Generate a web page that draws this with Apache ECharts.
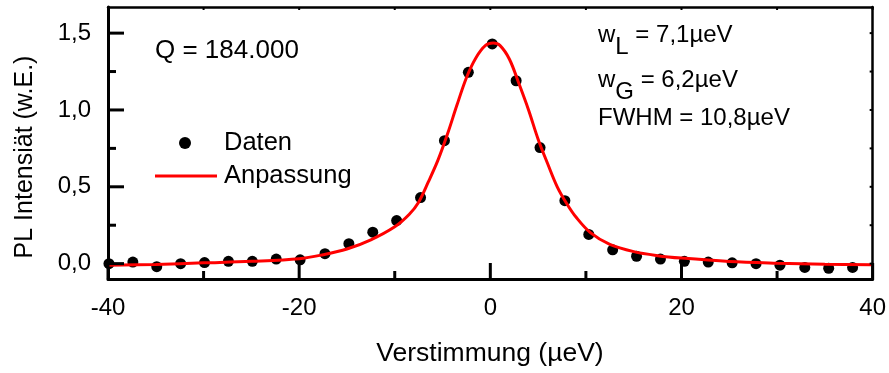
<!DOCTYPE html>
<html>
<head>
<meta charset="utf-8">
<script src="https://cdn.jsdelivr.net/npm/echarts@6/dist/echarts.min.js"></script>
<style>
  html, body { margin: 0; padding: 0; background: #fff; }
  #chart { width: 889px; height: 373px; }
</style>
</head>
<body>
<div id="chart"></div>
<script>
// Measured PL spectrum (detuning in µeV, intensity in arbitrary units)
const dataX = [-39.9, -37.4, -34.9, -32.4, -29.9, -27.4, -24.9, -22.4, -19.9, -17.3,
               -14.8, -12.3, -9.8, -7.3, -4.8, -2.3, 0.2, 2.7, 5.2, 7.8,
               10.3, 12.8, 15.3, 17.8, 20.3, 22.8, 25.3, 27.8, 30.3, 32.9, 35.4, 37.9];
const dataY = [0.0, 0.01, -0.02, 0.0, 0.007, 0.015, 0.015, 0.03, 0.025, 0.065,
               0.13, 0.205, 0.28, 0.43, 0.80, 1.245, 1.43, 1.19, 0.755, 0.41,
               0.19, 0.09, 0.048, 0.03, 0.015, 0.01, 0.005, 0.0, -0.01, -0.025, -0.03, -0.025];

// Voigt fit curve
const fitX = [-40, -35, -30, -25, -20, -17.5, -15, -12.5, -10, -8.5, -7.5, -6.5, -5.5, -4.5,
              -3.5, -2.5, -1.5, -0.5, 0.3, 1, 2, 3, 4, 5, 6, 7, 8, 9, 10.5, 12.5, 15,
              17.5, 20, 25, 30, 35, 40];
const fitY = [-0.010, -0.005, 0.005, 0.015, 0.032, 0.058, 0.095, 0.155, 0.24, 0.32, 0.40, 0.53, 0.67, 0.84,
              1.03, 1.21, 1.34, 1.42, 1.435, 1.42, 1.33, 1.17, 1.00, 0.81, 0.65, 0.50, 0.39, 0.30, 0.20, 0.125, 0.078,
              0.052, 0.036, 0.014, 0.003, -0.004, -0.008];

// Tick positions
const xMajorTicks = [-40, -20, 0, 20, 40];
const xMinorTicks = [-30, -10, 10, 30];
const xAllTicks = [-40, -30, -20, -10, 0, 10, 20, 30, 40];
const yMajorTicks = [0, 0.5, 1.0, 1.5];
const yMinorTicks = [0.25, 0.75, 1.25];
const yAllTicks = [0, 0.25, 0.5, 0.75, 1.0, 1.25, 1.5];

const FONT = 'Liberation Sans, Arial, sans-serif';
const X_MIN = -40, X_MAX = 40, Y_MIN = -0.1, Y_MAX = 1.67;

const chart = echarts.init(document.getElementById('chart'), null, { renderer: 'canvas' });

const fmtComma = v => v.toFixed(1).replace('.', ',');

// Axis carrying only the frame line and (optionally) the tick labels
function frameAxis(kind, position, width, labels) {
  const ax = {
    type: 'value', position,
    min: kind === 'x' ? X_MIN : Y_MIN, max: kind === 'x' ? X_MAX : Y_MAX,
    axisLine: { show: true, onZero: false, lineStyle: { color: '#000', width } },
    axisTick: { show: false },
    splitLine: { show: false },
    axisLabel: { show: false }
  };
  if (labels) {
    ax.axisLabel = Object.assign({ show: true, margin: 17, color: '#000', fontFamily: FONT, fontSize: 24 }, labels);
  }
  return ax;
}

chart.setOption({
  animation: false,
  backgroundColor: '#fff',
  grid: { left: 108, right: 16, top: 7, bottom: 94, containLabel: false },
  xAxis: [
    // copies: the library may rewrite the arrays it is handed
    frameAxis('x', 'bottom', 3, { customValues: xMajorTicks.slice(), formatter: v => String(v) }),
    frameAxis('x', 'top', 2.5, null)
  ],
  yAxis: [
    frameAxis('y', 'left', 3, { customValues: yMajorTicks.slice(), formatter: fmtComma }),
    frameAxis('y', 'right', 2.5, null)
  ],
  legend: [
    {
      left: 179, top: 130, padding: 0, itemWidth: 12, itemHeight: 12, itemGap: 0,
      data: [{ name: 'Daten', icon: 'circle' }],
      textStyle: { color: '#000', fontFamily: FONT, fontSize: 25.5, padding: [0, 0, 0, 28] }
    },
    {
      left: 155, top: 163, padding: 0, itemWidth: 62, itemHeight: 3, itemGap: 0,
      data: [{ name: 'Anpassung', icon: 'rect' }],
      textStyle: { color: '#000', fontFamily: FONT, fontSize: 25.5, padding: [0, 0, 0, 2] }
    }
  ],
  series: [
    {
      name: 'Daten', type: 'scatter', xAxisIndex: 0, yAxisIndex: 0,
      symbol: 'circle', symbolSize: 11,
      itemStyle: { color: '#000', opacity: 1 },
      data: dataX.map((x, i) => [x, dataY[i]]),
      z: 2
    },
    {
      name: 'Anpassung', type: 'line', xAxisIndex: 0, yAxisIndex: 0,
      showSymbol: false, smooth: 0.35,
      lineStyle: { color: '#ff0000', width: 3 },
      itemStyle: { color: '#ff0000' },
      data: fitX.map((x, i) => [x, fitY[i]]),
      z: 3
    }
  ]
});

// Annotation texts
const annotations = [
  { type: 'text', x: 155, y: 51,
    style: { text: 'Q = 184.000', fill: '#000', font: '26px ' + FONT, verticalAlign: 'middle' } },
  { type: 'text', x: 598, y: 35,
    style: { text: '{n|w}{s|L}{n| = 7,1µeV}', fill: '#000', verticalAlign: 'middle',
             rich: { n: { fontFamily: FONT, fontSize: 24 }, s: { fontFamily: FONT, fontSize: 24, padding: [24, 0, 0, 0] } } } },
  { type: 'text', x: 598, y: 80,
    style: { text: '{n|w}{s|G}{n| = 6,2µeV}', fill: '#000', verticalAlign: 'middle',
             rich: { n: { fontFamily: FONT, fontSize: 24 }, s: { fontFamily: FONT, fontSize: 24, padding: [24, 0, 0, 0] } } } },
  { type: 'text', x: 598, y: 118,
    style: { text: 'FWHM = 10,8µeV', fill: '#000', font: '24px ' + FONT, verticalAlign: 'middle' } },
  { type: 'text', x: 490, y: 354,
    style: { text: 'Verstimmung (µeV)', fill: '#000', font: '26.5px ' + FONT, align: 'center', verticalAlign: 'middle' } },
  { type: 'text', x: 25, y: 157, rotation: Math.PI / 2,
    style: { text: 'PL Intensiät (w.E.)', fill: '#000', font: '25px ' + FONT, align: 'center', verticalAlign: 'middle' } }
];

// Inward tick marks placed through the axis scales
function drawTicks() {
  const num = v => (typeof v === 'object' && v !== null) ? Number(v.value) : Number(v);
  const px = v => chart.convertToPixel({ xAxisIndex: 0 }, num(v));
  const py = v => chart.convertToPixel({ yAxisIndex: 0 }, num(v));
  const frameLeft = px(X_MIN), frameRight = px(X_MAX);
  const frameBottom = py(Y_MIN), frameTop = py(Y_MAX);

  const tick = (x1, y1, x2, y2, w) => ({
    type: 'line', silent: true, z: 10,
    shape: { x1, y1, x2, y2 }, style: { stroke: '#000', lineWidth: w }
  });
  const marks = [];
  xMajorTicks.forEach(v => marks.push(tick(px(v), frameBottom, px(v), frameBottom - 16, 3)));
  xMinorTicks.forEach(v => marks.push(tick(px(v), frameBottom, px(v), frameBottom - 8, 3)));
  xAllTicks.forEach(v => marks.push(tick(px(v), frameTop, px(v), frameTop + 3, 2)));
  yMajorTicks.forEach(v => marks.push(tick(frameLeft, py(v), frameLeft + 16, py(v), 3)));
  yMinorTicks.forEach(v => marks.push(tick(frameLeft, py(v), frameLeft + 8, py(v), 3)));
  yAllTicks.forEach(v => marks.push(tick(frameRight, py(v), frameRight - 3, py(v), 2)));
  return marks;
}

chart.setOption({ graphic: annotations.concat(drawTicks()) });
</script>
</body>
</html>
